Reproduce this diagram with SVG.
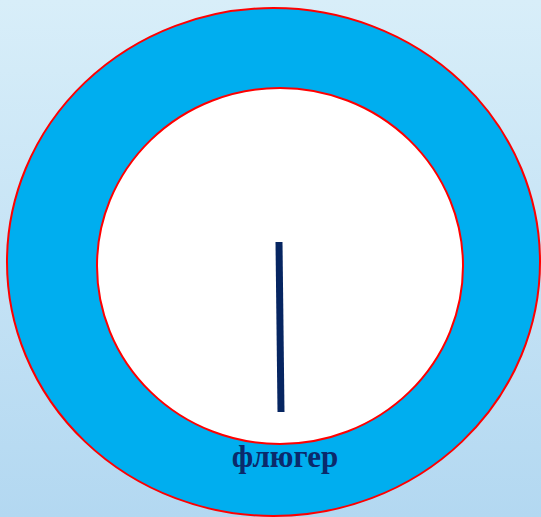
<svg xmlns="http://www.w3.org/2000/svg" width="541" height="517" viewBox="0 0 541 517">
  <defs>
    <linearGradient id="bg" x1="0" y1="0" x2="0" y2="1">
      <stop offset="0" stop-color="#D8EEF9"/>
      <stop offset="1" stop-color="#B3D8F1"/>
    </linearGradient>
  </defs>
  <style>
    .ring { fill: #00AEEF; stroke: #FF0000; stroke-width: 2; }
    .face { fill: #FFFFFF; stroke: #FF0000; stroke-width: 2; }
    .needle { stroke: #062561; stroke-width: 7; fill: none; }
    .label { font-family: "Liberation Serif", "Times New Roman", serif; font-weight: bold; font-size: 31px; fill: #0B2A6B; }
  </style>
  <rect width="541" height="517" fill="url(#bg)"/>
  <g id="dial">
    <ellipse class="ring" cx="273.5" cy="262" rx="266.5" ry="254"/>
    <ellipse class="face" cx="280" cy="266" rx="183" ry="178"/>
  </g>
  <g id="needle">
    <line class="needle" x1="279" y1="242" x2="281" y2="412"/>
  </g>
  <g id="caption">
    <text class="label" x="285" y="467" text-anchor="middle">флюгер</text>
  </g>
</svg>
